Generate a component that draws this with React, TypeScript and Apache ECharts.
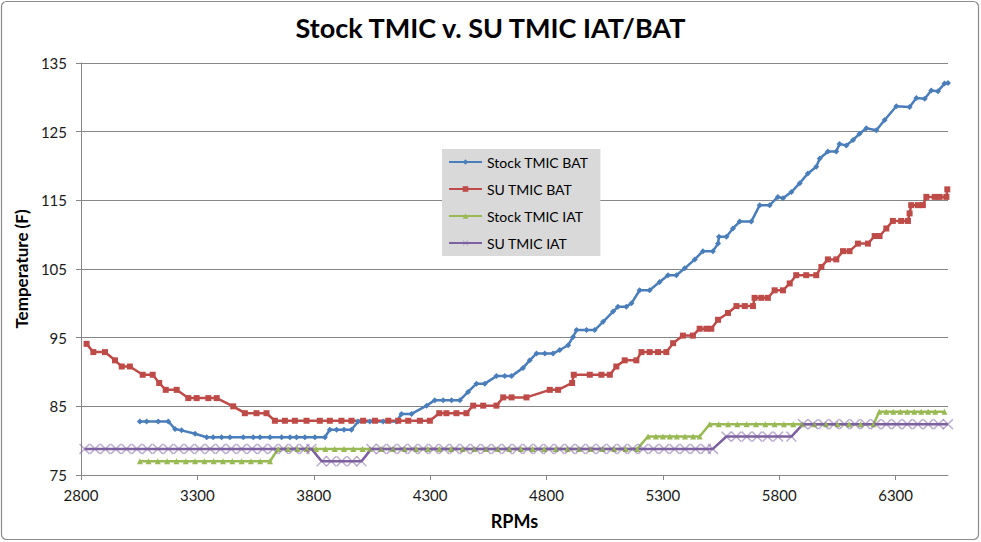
import React, { useEffect, useRef } from "react";
import * as echarts from "echarts";

const titleText = "Stock TMIC v. SU TMIC IAT/BAT";
const seriesNames = ["Stock TMIC BAT", "SU TMIC BAT", "Stock TMIC IAT", "SU TMIC IAT"];
const xTicks = [2800, 3300, 3800, 4300, 4800, 5300, 5800, 6300];
const yTicks = [75, 85, 95, 105, 115, 125, 135];

const stockBat: [number, number][] = [
  [3053, 82.8], [3082, 82.8], [3132, 82.8], [3175, 82.8], [3204, 81.7], [3232, 81.5], [3290, 81.0],
  [3340, 80.5], [3368, 80.5], [3404, 80.5], [3440, 80.5], [3497, 80.5], [3540, 80.5], [3569, 80.5],
  [3612, 80.5], [3662, 80.5], [3698, 80.5], [3726, 80.5], [3762, 80.5], [3805, 80.5], [3848, 80.5],
  [3869, 81.6], [3898, 81.6], [3930, 81.6], [3962, 81.6], [3991, 82.8], [4041, 82.8], [4098, 82.8],
  [4156, 82.8], [4177, 83.9], [4220, 83.9], [4285, 85.1], [4320, 85.9], [4356, 85.9], [4392, 85.9],
  [4428, 85.9], [4463, 87.1], [4499, 88.3], [4535, 88.3], [4585, 89.4], [4621, 89.4], [4650, 89.4],
  [4699, 90.6], [4728, 91.7], [4757, 92.7], [4793, 92.7], [4828, 92.7], [4857, 93.2], [4893, 93.9],
  [4914, 95.1], [4929, 96.1], [4972, 96.1], [5007, 96.1], [5043, 97.3], [5086, 98.8], [5107, 99.5],
  [5143, 99.5], [5165, 100.0], [5200, 101.9], [5243, 101.9], [5286, 103.1], [5322, 104.1], [5358, 104.1],
  [5394, 105.1], [5437, 106.4], [5472, 107.6], [5515, 107.6], [5537, 108.7], [5541, 109.7], [5573, 109.7],
  [5601, 110.9], [5630, 111.9], [5680, 111.9], [5716, 114.3], [5759, 114.3], [5794, 115.5], [5816, 115.3],
  [5852, 116.2], [5888, 117.5], [5923, 118.9], [5959, 119.9], [5974, 121.1], [6009, 122.1], [6045, 122.1],
  [6059, 123.2], [6088, 123.0], [6117, 123.8], [6145, 124.7], [6174, 125.5], [6217, 125.2], [6253, 126.7],
  [6303, 128.7], [6360, 128.6], [6389, 129.9], [6425, 129.8], [6453, 131.0], [6482, 130.9], [6510, 132.0],
  [6525, 132.1],
];

const suBat: [number, number][] = [
  [2824, 94.1], [2853, 92.9], [2903, 92.9], [2946, 91.7], [2975, 90.8], [3010, 90.8], [3065, 89.6],
  [3108, 89.6], [3136, 88.4], [3164, 87.4], [3211, 87.4], [3261, 86.2], [3297, 86.2], [3347, 86.2],
  [3383, 86.2], [3454, 85.0], [3504, 84.0], [3554, 84.0], [3597, 84.0], [3633, 82.9], [3676, 82.9],
  [3719, 82.9], [3769, 82.9], [3826, 82.9], [3869, 82.9], [3919, 82.9], [3962, 82.9], [4012, 82.9],
  [4063, 82.9], [4120, 82.9], [4163, 82.9], [4206, 82.9], [4256, 82.9], [4299, 82.9], [4339, 84.0],
  [4370, 84.0], [4413, 84.0], [4456, 84.0], [4485, 85.1], [4528, 85.1], [4585, 85.1], [4614, 86.3],
  [4650, 86.3], [4714, 86.3], [4814, 87.4], [4850, 87.4], [4910, 88.4], [4917, 89.6], [4986, 89.6],
  [5036, 89.6], [5072, 89.6], [5100, 90.8], [5136, 91.7], [5186, 91.7], [5208, 92.9], [5243, 92.9],
  [5279, 92.9], [5315, 92.9], [5344, 94.2], [5386, 95.3], [5429, 95.3], [5458, 96.3], [5487, 96.3],
  [5508, 96.3], [5537, 97.6], [5580, 98.6], [5616, 99.6], [5652, 99.6], [5687, 99.6], [5694, 100.8],
  [5723, 100.8], [5751, 100.8], [5780, 101.9], [5816, 101.9], [5845, 102.9], [5873, 104.1], [5916, 104.1],
  [5959, 104.1], [5981, 105.3], [6009, 106.4], [6045, 106.4], [6074, 107.6], [6102, 107.6], [6138, 108.7],
  [6181, 108.7], [6210, 109.8], [6231, 109.8], [6260, 110.9], [6288, 112.0], [6324, 112.0], [6353, 112.0],
  [6360, 113.1], [6367, 114.3], [6396, 114.3], [6417, 114.3], [6432, 115.5], [6468, 115.5], [6489, 115.5],
  [6518, 115.5], [6522, 116.6],
];

const stockIat: [number, number][] = [
  [3053, 77.0], [3090, 77.0], [3130, 77.0], [3170, 77.0], [3210, 77.0], [3250, 77.0], [3290, 77.0],
  [3330, 77.0], [3370, 77.0], [3410, 77.0], [3450, 77.0], [3490, 77.0], [3530, 77.0], [3570, 77.0],
  [3612, 77.0], [3647, 78.8], [3690, 78.8], [3730, 78.8], [3770, 78.8], [3810, 78.8], [3850, 78.8],
  [3890, 78.8], [3930, 78.8], [3970, 78.8], [4010, 78.8], [4041, 78.8], [4090, 78.8], [4140, 78.8],
  [4190, 78.8], [4240, 78.8], [4290, 78.8], [4340, 78.8], [4390, 78.8], [4440, 78.8], [4490, 78.8],
  [4540, 78.8], [4590, 78.8], [4640, 78.8], [4690, 78.8], [4740, 78.8], [4790, 78.8], [4840, 78.8],
  [4890, 78.8], [4940, 78.8], [4990, 78.8], [5040, 78.8], [5090, 78.8], [5140, 78.8], [5190, 78.8],
  [5236, 80.6], [5270, 80.6], [5300, 80.6], [5330, 80.6], [5360, 80.6], [5395, 80.6], [5430, 80.6],
  [5458, 80.6], [5501, 82.4], [5540, 82.4], [5580, 82.4], [5620, 82.4], [5660, 82.4], [5700, 82.4],
  [5740, 82.4], [5780, 82.4], [5820, 82.4], [5860, 82.4], [5900, 82.4], [5950, 82.4], [6000, 82.4],
  [6050, 82.4], [6100, 82.4], [6150, 82.4], [6205, 82.4], [6230, 84.2], [6260, 84.2], [6290, 84.2],
  [6320, 84.2], [6350, 84.2], [6380, 84.2], [6410, 84.2], [6440, 84.2], [6470, 84.2], [6510, 84.2],
];

const suIat: [number, number][] = [
  [2815, 78.8], [2860, 78.8], [2905, 78.8], [2950, 78.8], [2995, 78.8], [3040, 78.8], [3085, 78.8],
  [3130, 78.8], [3175, 78.8], [3220, 78.8], [3265, 78.8], [3310, 78.8], [3355, 78.8], [3400, 78.8],
  [3445, 78.8], [3490, 78.8], [3535, 78.8], [3580, 78.8], [3625, 78.8], [3670, 78.8], [3715, 78.8],
  [3760, 78.8], [3790, 78.8], [3834, 77.0], [3875, 77.0], [3920, 77.0], [3965, 77.0], [4005, 77.0],
  [4048, 78.8], [4090, 78.8], [4135, 78.8], [4180, 78.8], [4225, 78.8], [4270, 78.8], [4315, 78.8],
  [4360, 78.8], [4405, 78.8], [4450, 78.8], [4495, 78.8], [4540, 78.8], [4585, 78.8], [4630, 78.8],
  [4675, 78.8], [4720, 78.8], [4765, 78.8], [4810, 78.8], [4855, 78.8], [4900, 78.8], [4945, 78.8],
  [4990, 78.8], [5035, 78.8], [5080, 78.8], [5125, 78.8], [5170, 78.8], [5215, 78.8], [5260, 78.8],
  [5305, 78.8], [5350, 78.8], [5395, 78.8], [5440, 78.8], [5485, 78.8], [5515, 78.8], [5573, 80.6],
  [5615, 80.6], [5660, 80.6], [5705, 80.6], [5750, 80.6], [5795, 80.6], [5852, 80.6], [5902, 82.4],
  [5945, 82.4], [5990, 82.4], [6035, 82.4], [6080, 82.4], [6125, 82.4], [6170, 82.4], [6215, 82.4],
  [6260, 82.4], [6305, 82.4], [6350, 82.4], [6395, 82.4], [6440, 82.4], [6485, 82.4], [6525, 82.4],
];

const X_SYMBOL =
  "path://M0,1 L1,0 L5,4 L9,0 L10,1 L6,5 L10,9 L9,10 L5,6 L1,10 L0,9 L4,5 Z";

const FONT = "Lato, 'Open Sans', 'DejaVu Sans', sans-serif";

export default function App() {
  const ref = useRef<HTMLDivElement>(null);

  useEffect(() => {
    if (!ref.current) return;
    const chart = echarts.init(ref.current, null, { renderer: "svg" });
    const mk = (
      name: string,
      data: [number, number][],
      color: string,
      symbol: string,
      symbolSize: number,
      symbolColor: string
    ) => ({
      name,
      type: "line",
      data,
      symbol,
      symbolSize,
      showAllSymbol: true,
      lineStyle: { color, width: 2.5 },
      itemStyle: { color: symbolColor },
      emphasis: { disabled: true },
    });

    chart.setOption({
      animation: false,
      backgroundColor: "#ffffff",
      textStyle: { fontFamily: FONT },
      title: {
        text: titleText,
        left: "center",
        top: 9,
        textStyle: { fontFamily: FONT, fontSize: 27, fontWeight: "bold", color: "#000" },
      },
      graphic: [
        {
          type: "rect",
          shape: { x: 1.5, y: 1.5, width: 977, height: 538, r: 5 },
          style: { fill: "none", stroke: "#8c8c8c", lineWidth: 1.2 },
          silent: true,
        },
      ],
      legend: {
        orient: "vertical",
        left: 442,
        top: 149,
        data: seriesNames,
        backgroundColor: "#d9d9d9",
        padding: [6, 12, 6, 6],
        itemGap: 13,
        itemWidth: 33,
        itemHeight: 7,
        textStyle: { fontFamily: FONT, fontSize: 14, color: "#000" },
      },
      grid: { left: 81, right: 33, top: 63, bottom: 67 },
      xAxis: {
        type: "value",
        min: 2800,
        max: 6525,
        name: "RPMs",
        nameLocation: "middle",
        nameGap: 37,
        nameTextStyle: { fontFamily: FONT, fontSize: 18, fontWeight: "bold", color: "#000" },
        axisLine: { show: true, lineStyle: { color: "#868686", width: 1 } },
        axisTick: { show: true, length: 5, customValues: xTicks, lineStyle: { color: "#868686" } },
        axisLabel: {
          customValues: xTicks,
          margin: 12,
          fontSize: 15,
          color: "#1a1a1a",
          fontFamily: FONT,
          formatter: (v: number) => String(v),
        },
        splitLine: { show: false },
      },
      yAxis: {
        type: "value",
        min: 75,
        max: 135,
        name: "Temperature (F)",
        nameLocation: "middle",
        nameRotate: 90,
        nameGap: 48,
        nameTextStyle: { fontFamily: FONT, fontSize: 17, fontWeight: "bold", color: "#000" },
        axisLine: { show: true, lineStyle: { color: "#868686", width: 1 } },
        axisTick: { show: true, length: 5, customValues: yTicks, lineStyle: { color: "#868686" } },
        axisLabel: {
          customValues: yTicks,
          margin: 14,
          fontSize: 15,
          color: "#1a1a1a",
          fontFamily: FONT,
          formatter: (v: number) => String(v),
        },
        splitLine: { show: true, lineStyle: { color: "#868686", width: 1 } },
      },
      series: [
        mk(seriesNames[0], stockBat, "#4A7EBB", "diamond", 6, "#4A7EBB"),
        mk(seriesNames[1], suBat, "#BE4B48", "rect", 6, "#BE4B48"),
        mk(seriesNames[2], stockIat, "#98B954", "triangle", 6, "#98B954"),
        mk(seriesNames[3], suIat, "#7D60A0", X_SYMBOL, 11, "rgba(125,96,160,0.5)"),
      ],
    });
    return () => chart.dispose();
  }, []);

  return (
    <div
      ref={ref}
      style={{ position: "absolute", left: 0, top: 0, width: 981, height: 542 }}
    />
  );
}
